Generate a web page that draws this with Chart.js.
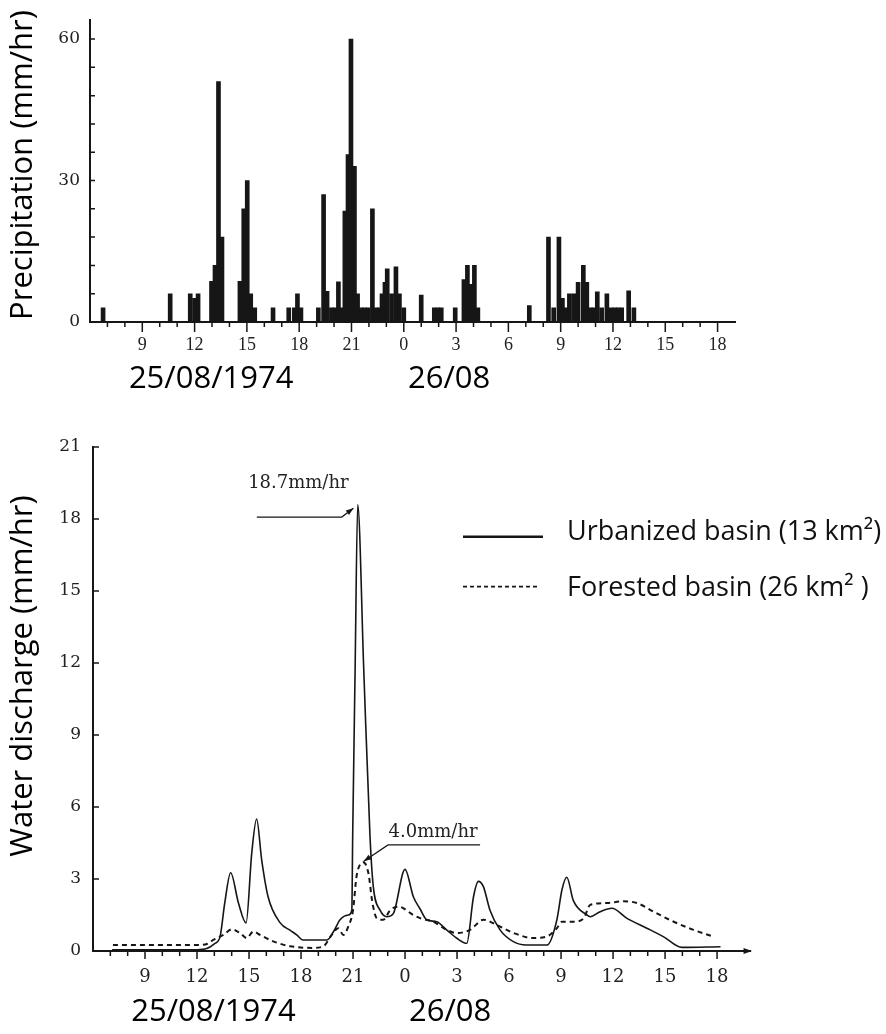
<!DOCTYPE html>
<html>
<head>
<meta charset="utf-8">
<script src="https://cdn.jsdelivr.net/npm/chart.js@4.4.0/dist/chart.umd.min.js"></script>
<style>
  html, body { margin: 0; padding: 0; background: #fff; }
  #wrap { position: relative; width: 886px; height: 1034px; }
  canvas { position: absolute; left: 0; }
</style>
</head>
<body>
<div id="wrap">
  <canvas id="rain" width="886" height="400" style="top:0"></canvas>
  <canvas id="flow" width="886" height="634" style="top:400px"></canvas>
</div>
<script>
// hours counted from 00:00 on 25/08/1974 (24 = 00:00 on 26/08)
const rainHours = [6.75, 10.6, 11.75, 12.0, 12.2, 12.97, 13.17, 13.37, 13.57,
  14.6, 14.82, 15.02, 15.22, 15.45, 16.5, 17.4, 17.72, 17.9, 18.1,
  19.1, 19.4, 19.6, 19.85, 20.05, 20.25, 20.45, 20.62, 20.8, 20.97, 21.17, 21.35,
  21.55, 21.75, 21.95, 22.2, 22.4, 22.6, 22.75, 22.92, 23.05, 23.3, 23.55, 23.75, 24.0,
  25.0, 25.75, 25.95, 26.15, 26.95, 27.45, 27.65, 27.85, 28.05, 28.25, 31.2,
  32.3, 32.6, 32.9, 33.1, 33.3, 33.5, 33.75, 34.0, 34.3, 34.5, 34.7, 34.9, 35.1,
  35.35, 35.65, 35.9, 36.1, 36.3, 36.5, 36.9, 37.2];
const rainValues = [3, 6, 6, 5, 6, 8.6, 12, 51, 18,
  8.6, 24, 30, 6, 3, 3, 3, 3, 6, 3,
  3, 27, 6.5, 3, 3, 8.5, 3, 23.5, 35.5, 60, 33, 6,
  3, 3, 3, 24, 3, 3, 6, 8.4, 11.3, 6, 11.7, 6, 3,
  5.7, 3, 3, 3, 3, 9, 12, 8, 12, 3, 3.5,
  18, 3, 18, 5, 3, 6, 6, 8.4, 12, 8.4, 3, 3, 6.4,
  3, 6, 3, 3, 3, 3, 6.6, 3];

const urbanHours = [7.1, 12.0, 12.56, 13.0, 13.33, 13.6, 13.94, 14.39, 14.83, 15.16, 15.44,
  15.73, 16.1, 16.8, 17.4, 17.75, 18.1, 19.5, 19.87, 20.25, 20.73, 20.93, 20.98, 21.12, 21.27,
  21.62, 21.98, 22.17, 22.56, 22.95, 23.33, 24.0, 24.48, 24.87, 25.25, 25.83, 26.4, 26.99,
  27.56, 27.95, 28.23, 28.52, 28.9, 29.48, 30.25, 31.0, 32.2, 32.76, 33.05, 33.33,
  33.71, 34.5, 34.68, 35.26, 35.93, 36.8, 37.95, 38.9, 39.97, 42.2];
const urbanValues = [0.05, 0.05, 0.1, 0.3, 0.6, 2.0, 3.26, 2.0, 1.17, 4.1, 5.5,
  3.8, 2.26, 1.17, 0.85, 0.67, 0.46, 0.46, 0.8, 1.3, 1.5, 1.7, 4.8, 11.7, 18.6,
  11.7, 4.76, 2.68, 1.7, 1.43, 1.57, 3.4, 2.26, 1.75, 1.3, 1.22, 0.88, 0.53,
  0.32, 2.26, 2.9, 2.68, 1.7, 0.88, 0.39, 0.25, 0.25, 1.3, 2.54, 3.07,
  2.1, 1.5, 1.43, 1.64, 1.78, 1.36, 0.95, 0.6, 0.15, 0.18];

const forestHours = [7.15, 12.17, 12.6, 12.94, 13.52, 14.0, 14.48, 14.87, 15.25, 15.64,
  16.4, 17.37, 18.7, 19.3, 19.77, 20.15, 20.44, 20.73, 21.0, 21.2, 21.4, 21.6, 21.9,
  22.1, 22.37, 22.75, 23.14, 23.62, 24.48, 24.87, 25.63, 26.4, 26.99, 27.75, 28.52,
  29.3, 30.25, 31.4, 32.17, 32.76, 33.05, 33.7, 34.3, 34.68, 35.64, 36.6, 37.37,
  38.33, 39.5, 40.64, 41.8];
const forestValues = [0.25, 0.25, 0.3, 0.46, 0.67, 0.9, 0.75, 0.54, 0.81, 0.67,
  0.4, 0.2, 0.13, 0.2, 0.67, 0.95, 0.67, 1.03, 1.7, 3.1, 3.6, 3.7, 3.2,
  2.1, 1.36, 1.3, 1.7, 1.85, 1.5, 1.37, 1.22, 0.88, 0.75, 0.88, 1.3,
  1.08, 0.75, 0.54, 0.6, 0.95, 1.22, 1.22, 1.36, 1.92, 2.0, 2.07, 2.0,
  1.64, 1.22, 0.88, 0.6];

const hourTicks = [9, 12, 15, 18, 21, 24, 27, 30, 33, 36, 39, 42];
const rainTicks = [0, 30, 60];
const flowTicks = [0, 3, 6, 9, 12, 15, 18, 21];

const ink = '#161616';
const sans = '"Open Sans", sans-serif';

function pts(xs, ys) {
  return xs.map((h, i) => ({ x: h, y: ys[i] }));
}

function vTitle(ctx, text, cx, cy, font) {
  ctx.save();
  ctx.translate(cx, cy);
  ctx.rotate(-Math.PI / 2);
  ctx.font = font;
  ctx.fillStyle = '#000';
  ctx.textAlign = 'center';
  ctx.textBaseline = 'middle';
  ctx.fillText(text, 0, 0);
  ctx.restore();
}

function dateLabels(ctx, x, py) {
  ctx.save();
  ctx.font = '31px ' + sans;
  ctx.fillStyle = '#000';
  ctx.textAlign = 'center';
  ctx.textBaseline = 'middle';
  ctx.fillText('25/08/1974', x.getPixelForValue(12.95), py);
  ctx.fillText('26/08', x.getPixelForValue(26.6), py);
  ctx.restore();
}

function hourMarks(ctx, x, y0, majorLen, minorLen) {
  ctx.beginPath();
  for (let h = 7; h <= 42; h++) {
    const px = x.getPixelForValue(h);
    ctx.moveTo(px, y0);
    ctx.lineTo(px, y0 + (h % 3 === 0 ? majorLen : minorLen));
  }
  ctx.stroke();
}

const rainDecor = {
  id: 'rainDecor',
  afterDraw(chart) {
    const { ctx, scales: { x, y } } = chart;
    ctx.save();
    ctx.strokeStyle = ink;
    ctx.lineWidth = 1.5;
    const y0 = y.getPixelForValue(0);
    hourMarks(ctx, x, y0, 10, 5);
    const x0 = x.getPixelForValue(6);
    ctx.beginPath();
    for (let v = 6; v <= 60; v += 6) {
      const py = y.getPixelForValue(v);
      ctx.moveTo(x0, py);
      ctx.lineTo(x0 + 5, py);
    }
    ctx.stroke();
    ctx.restore();
    vTitle(ctx, 'Precipitation (mm/hr)', 23, 165, '31px ' + sans);
    dateLabels(ctx, x, 379);
  }
};

new Chart(document.getElementById('rain'), {
  type: 'bar',
  data: {
    datasets: [{
      label: 'Precipitation',
      data: pts(rainHours, rainValues),
      backgroundColor: ink,
      barThickness: 4
    }]
  },
  options: {
    responsive: false,
    animation: false,
    devicePixelRatio: 1,
    layout: { padding: { top: 17, right: 151, left: 0, bottom: 0 } },
    plugins: { legend: { display: false }, tooltip: { enabled: false } },
    scales: {
      x: {
        type: 'linear', min: 6, max: 43, offset: false,
        afterBuildTicks: s => { s.ticks = hourTicks.map(v => ({ value: v })); },
        afterFit: s => { s.height = 78; },
        grid: { display: false, drawTicks: false },
        border: { color: ink, width: 2 },
        ticks: {
          padding: 12, color: '#222', maxRotation: 0, autoSkip: false,
          font: { family: '"Liberation Serif"', size: 18 },
          callback: v => String(v % 24)
        }
      },
      y: {
        min: 0, max: 64,
        afterBuildTicks: s => { s.ticks = rainTicks.map(v => ({ value: v })); },
        afterFit: s => { s.width = 90; },
        grid: { display: false, drawTicks: false },
        border: { color: ink, width: 2 },
        ticks: { padding: 10, color: '#222', font: { family: '"DejaVu Serif"', size: 17 } }
      }
    }
  },
  plugins: [rainDecor]
});

function arrowHead(ctx, fx, fy, tx, ty, size) {
  const a = Math.atan2(ty - fy, tx - fx);
  ctx.beginPath();
  ctx.moveTo(tx, ty);
  ctx.lineTo(tx - size * Math.cos(a - 0.35), ty - size * Math.sin(a - 0.35));
  ctx.lineTo(tx - size * Math.cos(a + 0.35), ty - size * Math.sin(a + 0.35));
  ctx.closePath();
  ctx.fill();
}

function leader(ctx, x, y, path) {
  const p = path.map(([h, v]) => [x.getPixelForValue(h), y.getPixelForValue(v)]);
  ctx.beginPath();
  p.forEach(([px, py], i) => (i ? ctx.lineTo(px, py) : ctx.moveTo(px, py)));
  ctx.stroke();
  const n = p.length;
  arrowHead(ctx, p[n - 2][0], p[n - 2][1], p[n - 1][0], p[n - 1][1], 8);
}

const flowDecor = {
  id: 'flowDecor',
  afterDraw(chart) {
    const { ctx, scales: { x, y } } = chart;
    ctx.save();
    ctx.strokeStyle = ink;
    ctx.fillStyle = ink;
    ctx.lineWidth = 1.5;
    const y0 = y.getPixelForValue(0);
    const x0 = x.getPixelForValue(6);
    hourMarks(ctx, x, y0, 8, 5);
    ctx.beginPath();
    flowTicks.forEach(v => {
      const py = y.getPixelForValue(v);
      ctx.moveTo(x0, py);
      ctx.lineTo(x0 + 6, py);
    });
    ctx.stroke();
    const xe = x.getPixelForValue(43.9);
    arrowHead(ctx, xe - 10, y0, xe + 2, y0, 9);

    // peak annotations
    ctx.lineWidth = 1.3;
    leader(ctx, x, y, [[15.45, 18.08], [20.35, 18.08], [21.02, 18.45]]);
    leader(ctx, x, y, [[28.33, 4.42], [23.02, 4.42], [21.62, 3.74]]);
    ctx.font = '18px "DejaVu Serif"';
    ctx.fillStyle = '#222';
    ctx.textAlign = 'left';
    ctx.textBaseline = 'alphabetic';
    ctx.fillText('18.7mm/hr', x.getPixelForValue(14.95), y.getPixelForValue(19.3));
    ctx.fillText('4.0mm/hr', x.getPixelForValue(23.05), y.getPixelForValue(4.75));

    // legend
    const rows = [136.7, 186.7];
    chart.data.datasets.forEach((ds, i) => {
      ctx.save();
      ctx.strokeStyle = ink;
      ctx.lineWidth = i ? 1.8 : 2.6;
      ctx.setLineDash(i ? [4, 3] : []);
      ctx.beginPath();
      ctx.moveTo(463, rows[i]);
      ctx.lineTo(i ? 538 : 543, rows[i]);
      ctx.stroke();
      ctx.restore();
      ctx.font = '27px ' + sans;
      ctx.fillStyle = '#111';
      ctx.textBaseline = 'middle';
      ctx.fillText(ds.label, 567, rows[i] - 4 + i * 6);
    });
    ctx.restore();
    vTitle(ctx, 'Water discharge (mm/hr)', 23, 276, '31px ' + sans);
    dateLabels(ctx, x, 612);
  }
};

new Chart(document.getElementById('flow'), {
  type: 'line',
  data: {
    datasets: [{
      label: 'Urbanized basin (13 km²)',
      data: pts(urbanHours, urbanValues),
      borderColor: ink,
      borderWidth: 1.6,
      pointRadius: 0,
      cubicInterpolationMode: 'monotone'
    }, {
      label: 'Forested basin (26 km² )',
      data: pts(forestHours, forestValues),
      borderColor: ink,
      borderWidth: 2,
      borderDash: [5, 4],
      pointRadius: 0,
      cubicInterpolationMode: 'monotone'
    }]
  },
  options: {
    responsive: false,
    animation: false,
    devicePixelRatio: 1,
    layout: { padding: { top: 47, right: 136, left: 0, bottom: 0 } },
    plugins: { legend: { display: false }, tooltip: { enabled: false } },
    scales: {
      x: {
        type: 'linear', min: 6, max: 43.9,
        afterBuildTicks: s => { s.ticks = hourTicks.map(v => ({ value: v })); },
        afterFit: s => { s.height = 83; },
        grid: { display: false, drawTicks: false },
        border: { color: ink, width: 2 },
        ticks: {
          padding: 16, color: '#222', maxRotation: 0, autoSkip: false,
          font: { family: '"DejaVu Serif"', size: 18 },
          callback: v => String(v % 24)
        }
      },
      y: {
        min: 0, max: 21,
        afterBuildTicks: s => { s.ticks = flowTicks.map(v => ({ value: v })); },
        afterFit: s => { s.width = 93; },
        grid: { display: false, drawTicks: false },
        border: { color: ink, width: 2 },
        ticks: { padding: 12, color: '#222', font: { family: '"DejaVu Serif"', size: 17 } }
      }
    }
  },
  plugins: [flowDecor]
});
</script>
</body>
</html>
